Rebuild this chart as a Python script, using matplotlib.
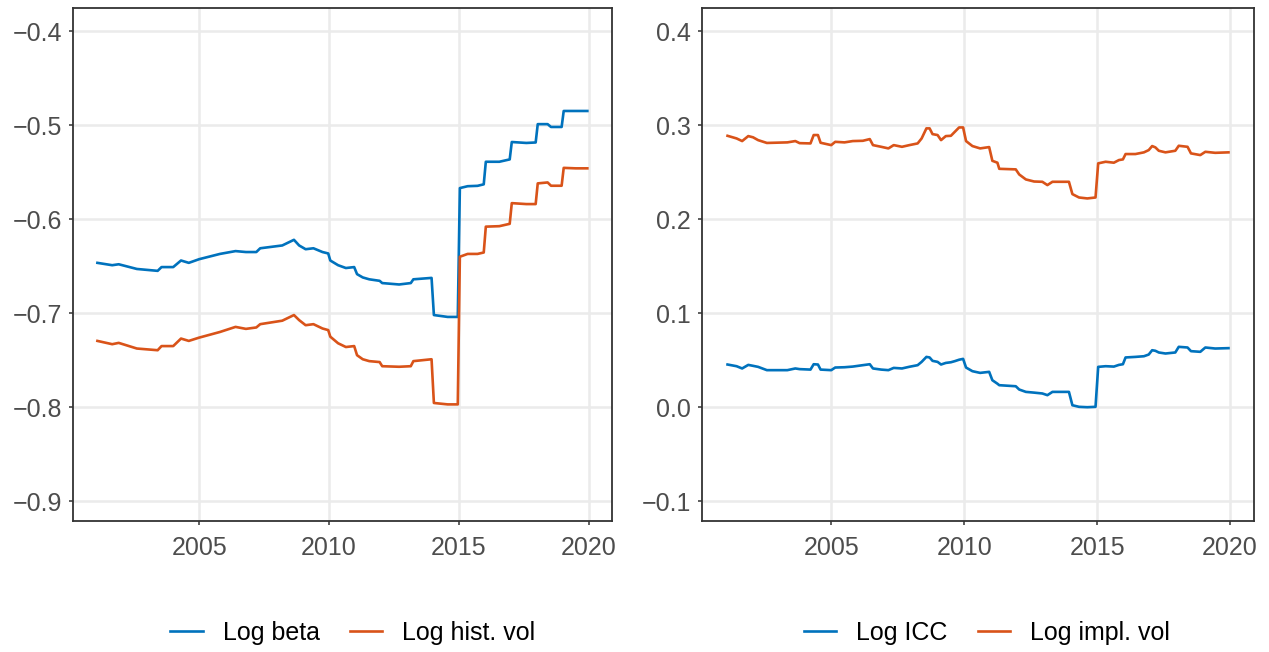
import matplotlib
matplotlib.use('Agg')
import matplotlib.pyplot as plt
import numpy as np

plt.rcParams['font.family'] = ['Liberation Sans', 'DejaVu Sans']

# left panel: log beta and log historical volatility
dates_left = [2001.08, 2001.65, 2001.9, 2002.6, 2003.4, 2003.55, 2004.0, 2004.3,
              2004.6, 2005.0, 2005.8, 2006.4, 2006.8, 2007.2, 2007.35, 2008.2,
              2008.5, 2008.65, 2008.85, 2009.1, 2009.4, 2009.75, 2009.97, 2010.05,
              2010.35, 2010.65, 2010.97, 2011.08, 2011.3, 2011.55, 2011.95, 2012.05,
              2012.7, 2013.15, 2013.25, 2013.95, 2014.04, 2014.57, 2014.96, 2015.04,
              2015.34, 2015.72, 2015.96, 2016.04, 2016.56, 2016.96, 2017.04, 2017.6,
              2017.96, 2018.04, 2018.42, 2018.55, 2018.96, 2019.04, 2019.5, 2019.95]
log_beta = [-0.6465, -0.649, -0.648, -0.653, -0.655, -0.651, -0.651, -0.644,
            -0.6465, -0.6426, -0.637, -0.634, -0.635, -0.635, -0.631, -0.628,
            -0.624, -0.622, -0.628, -0.632, -0.631, -0.635, -0.6365, -0.644,
            -0.649, -0.652, -0.651, -0.6585, -0.662, -0.664, -0.6656, -0.668,
            -0.6695, -0.668, -0.664, -0.6625, -0.702, -0.704, -0.704, -0.567,
            -0.565, -0.5646, -0.563, -0.539, -0.539, -0.5365, -0.518, -0.519,
            -0.5185, -0.499, -0.499, -0.502, -0.502, -0.485, -0.485, -0.485]
log_hist_vol = [-0.7295, -0.733, -0.7316, -0.7376, -0.7394, -0.735, -0.735, -0.727,
                -0.7295, -0.726, -0.720, -0.7146, -0.7167, -0.7152, -0.7117, -0.708,
                -0.704, -0.702, -0.7074, -0.7128, -0.7117, -0.7163, -0.718, -0.725,
                -0.732, -0.736, -0.735, -0.7447, -0.749, -0.751, -0.752, -0.7564,
                -0.757, -0.7564, -0.751, -0.749, -0.7955, -0.797, -0.797, -0.640,
                -0.637, -0.637, -0.6355, -0.608, -0.6075, -0.605, -0.583, -0.584,
                -0.584, -0.562, -0.561, -0.5645, -0.5645, -0.5455, -0.546, -0.546]

# right panel: log ICC and log implied volatility
dates_right = [2001.1, 2001.44, 2001.65, 2001.88, 2002.06, 2002.25, 2002.58, 2003.35,
               2003.65, 2003.81, 2004.22, 2004.34, 2004.5, 2004.6, 2005.0, 2005.15,
               2005.5, 2005.81, 2006.19, 2006.45, 2006.57, 2006.88, 2007.15, 2007.35,
               2007.66, 2007.94, 2008.25, 2008.4, 2008.58, 2008.7, 2008.81, 2009.0,
               2009.13, 2009.31, 2009.5, 2009.65, 2009.81, 2009.96, 2010.07, 2010.31,
               2010.6, 2010.94, 2011.06, 2011.25, 2011.32, 2011.94, 2012.07, 2012.32,
               2012.63, 2012.94, 2013.13, 2013.32, 2013.94, 2014.07, 2014.32, 2014.63,
               2014.94, 2015.04, 2015.32, 2015.63, 2015.82, 2015.97, 2016.07, 2016.44,
               2016.76, 2016.94, 2017.07, 2017.19, 2017.32, 2017.57, 2017.94, 2018.07,
               2018.4, 2018.53, 2018.88, 2019.07, 2019.44, 2019.94]
log_icc = [0.0454, 0.0436, 0.0412, 0.045, 0.044, 0.0429, 0.0394, 0.0394,
           0.0412, 0.0405, 0.040, 0.0457, 0.0454, 0.040, 0.0394, 0.0422,
           0.0425, 0.0432, 0.0447, 0.0457, 0.0412, 0.040, 0.0394, 0.0418,
           0.0412, 0.0430, 0.0447, 0.0482, 0.0535, 0.0529, 0.0493, 0.0482,
           0.0454, 0.0471, 0.0478, 0.049, 0.0505, 0.0514, 0.0422, 0.0383,
           0.0365, 0.0376, 0.0287, 0.025, 0.0234, 0.0223, 0.0188, 0.0163,
           0.0155, 0.0146, 0.0128, 0.0163, 0.0163, 0.0021, 0.0004, 0.0,
           0.0004, 0.0429, 0.0436, 0.0432, 0.045, 0.0457, 0.0529, 0.0535,
           0.0542, 0.056, 0.0606, 0.060, 0.0582, 0.0571, 0.0582, 0.0642,
           0.0635, 0.0596, 0.0589, 0.0635, 0.0624, 0.0628]
log_impl_vol = [0.2886, 0.2858, 0.283, 0.2883, 0.287, 0.284, 0.281, 0.2816,
                0.283, 0.2808, 0.2805, 0.2894, 0.2894, 0.2812, 0.2787, 0.2822,
                0.2816, 0.283, 0.2833, 0.2851, 0.2787, 0.2769, 0.2752, 0.2787,
                0.2769, 0.2787, 0.2805, 0.2858, 0.2965, 0.2965, 0.2904, 0.2894,
                0.284, 0.2883, 0.2886, 0.2929, 0.2975, 0.2975, 0.283, 0.2777,
                0.2752, 0.2766, 0.262, 0.26, 0.2535, 0.2529, 0.2475, 0.2422,
                0.240, 0.2397, 0.2362, 0.2397, 0.2397, 0.2266, 0.223, 0.222,
                0.223, 0.2593, 0.261, 0.26, 0.2628, 0.2635, 0.2692, 0.2692,
                0.271, 0.2734, 0.2777, 0.2763, 0.2727, 0.271, 0.2727, 0.278,
                0.2769, 0.2699, 0.2681, 0.2716, 0.2705, 0.271]

x_ticks = [2005, 2010, 2015, 2020]
y_ticks_left = [-0.9, -0.8, -0.7, -0.6, -0.5, -0.4]
y_ticks_right = [-0.1, 0.0, 0.1, 0.2, 0.3, 0.4]

BLUE = '#0072BD'
ORANGE = '#D95319'
FS = 18

fig = plt.figure(figsize=(12.69, 6.52), dpi=100)
W, H = 1269, 652
ax1 = fig.add_axes([73 / W, (H - 521) / H, (612 - 73) / W, (521 - 8) / H])
ax2 = fig.add_axes([702 / W, (H - 521) / H, (1254 - 702) / W, (521 - 8) / H])


def style(ax, yticks, ylim):
  ax.set_xlim(2000.14, 2020.9)
  ax.set_ylim(*ylim)
  ax.set_xticks(x_ticks)
  ax.set_yticks(yticks)
  # unicode minus, like the original
  labels = []
  for v in yticks:
    s = '%.1f' % v
    if s == '-0.0':
      s = '0.0'
    labels.append(s.replace('-', '\u2212'))
  ax.set_yticklabels(labels)
  ax.grid(True, color='#EBEBEB', lw=1.8)
  ax.set_axisbelow(True)
  for s in ax.spines.values():
    s.set_color('#333333')
    s.set_linewidth(1.3)
  ax.tick_params(axis='both', colors='#333333', length=3, width=1.1,
                 labelsize=FS, labelcolor='#4D4D4D')
  ax.tick_params(axis='x', pad=8)
  ax.tick_params(axis='y', pad=5)


l1, = ax1.plot(dates_left, log_beta, color=BLUE, lw=1.9, label='Log beta')
l2, = ax1.plot(dates_left, log_hist_vol, color=ORANGE, lw=1.9, label='Log hist. vol')
style(ax1, y_ticks_left, (-0.921, -0.3755))

r1, = ax2.plot(dates_right, log_icc, color=BLUE, lw=1.9, label='Log ICC')
r2, = ax2.plot(dates_right, log_impl_vol, color=ORANGE, lw=1.9, label='Log impl. vol')
style(ax2, y_ticks_right, (-0.121, 0.4245))

leg_kw = dict(loc='center', ncol=2, frameon=False, fontsize=FS,
              handlelength=1.3, handletextpad=0.8, columnspacing=1.2)
fig.legend(handles=[l1, l2], bbox_to_anchor=(353 / W, 0.029), **leg_kw)
fig.legend(handles=[r1, r2], bbox_to_anchor=(987 / W, 0.029), **leg_kw)

fig.savefig('out.png', dpi=100)
